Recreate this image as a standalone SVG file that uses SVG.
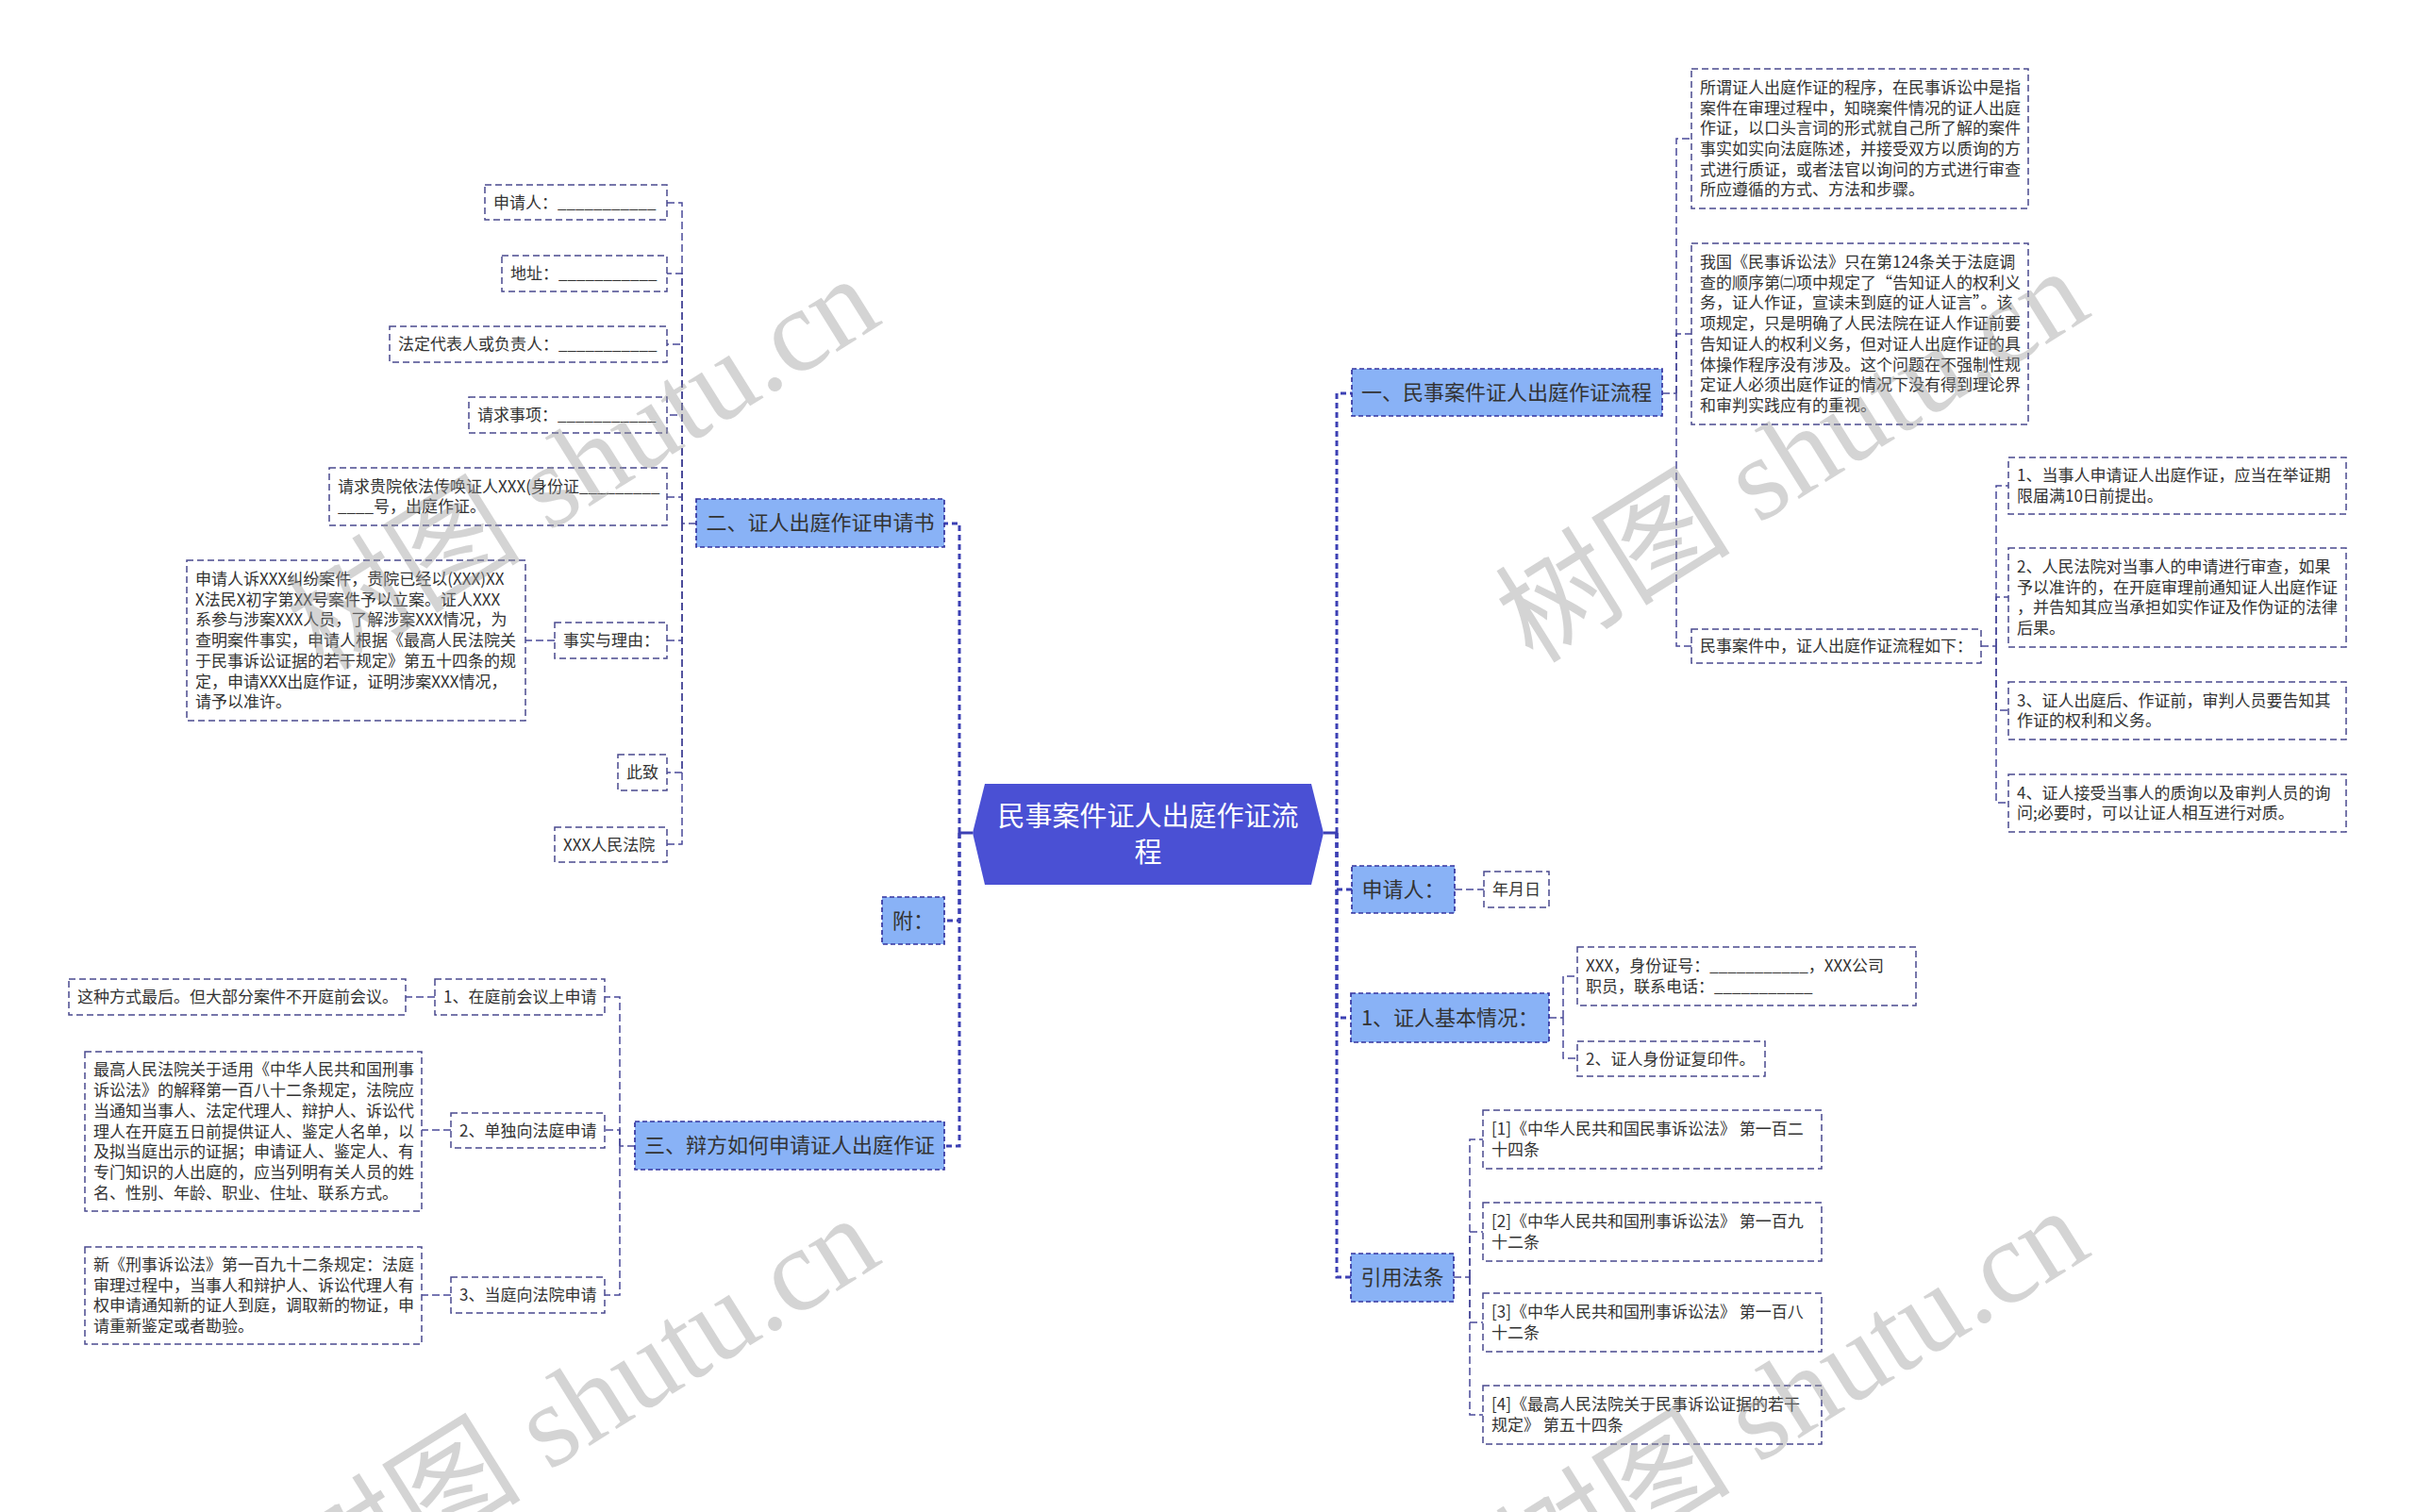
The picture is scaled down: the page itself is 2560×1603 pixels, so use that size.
<svg xmlns="http://www.w3.org/2000/svg" width="2560" height="1603" viewBox="0 0 2560 1603">
<style>
.t{font-family:"Noto Sans CJK SC","Noto Sans",sans-serif;fill:#333;}
.s{font-size:17px;}
.m{font-size:22px;}
.ctr{text-anchor:middle;}
.box{fill:#fff;stroke:#4a4a8e;stroke-width:1.5;stroke-dasharray:7 4;}
.l1{fill:#89b2f6;stroke:#3535a0;stroke-width:1.7;stroke-dasharray:5 3;}
.trunk{fill:none;stroke:#3c40b4;stroke-width:3;stroke-dasharray:6 4;}
.solid{fill:none;stroke:#3c40b4;stroke-width:3;}
.c{fill:none;stroke:#4a4a99;stroke-width:1.5;stroke-dasharray:8 4;}
.wm{font-family:"Liberation Serif","Noto Sans CJK SC",serif;font-size:125px;fill:#9a9a9a;opacity:0.42;}
</style>
<rect width="2560" height="1603" fill="#fff"/>

<g id="connectors">
  <path class="solid" d="M1403,883 H1417 M1031,883 H1017"/>
  <path class="trunk" d="M1417,883 V417 H1433"/>
  <path class="trunk" d="M1417,883 V943 H1433"/>
  <path class="trunk" d="M1417,883 V1079 H1432"/>
  <path class="trunk" d="M1417,883 V1354 H1432"/>
  <path class="trunk" d="M1017,883 V555 H1001"/>
  <path class="trunk" d="M1017,883 V976 H1001"/>
  <path class="trunk" d="M1017,883 V1215 H1001"/>
  <!-- 一 children -->
  <path class="c" d="M1762,417 H1777"/>
  <path class="c" d="M1777,417 V147 H1793"/>
  <path class="c" d="M1777,417 V354 H1793"/>
  <path class="c" d="M1777,417 V685 H1793"/>
  <path class="c" d="M2100,685 H2116"/>
  <path class="c" d="M2116,685 V515 H2129"/>
  <path class="c" d="M2116,685 V633 H2129"/>
  <path class="c" d="M2116,685 V753 H2129"/>
  <path class="c" d="M2116,685 V851 H2129"/>
  <!-- 申请人 -->
  <path class="c" d="M1542,943 H1573"/>
  <!-- 证人基本情况 -->
  <path class="c" d="M1642,1079 H1657"/>
  <path class="c" d="M1657,1079 V1035 H1672"/>
  <path class="c" d="M1657,1079 V1122 H1672"/>
  <!-- 引用法条 -->
  <path class="c" d="M1541,1354 H1558"/>
  <path class="c" d="M1558,1354 V1208 H1572"/>
  <path class="c" d="M1558,1354 V1306 H1572"/>
  <path class="c" d="M1558,1354 V1402 H1572"/>
  <path class="c" d="M1558,1354 V1500 H1572"/>
  <!-- 二 children -->
  <path class="c" d="M738,555 H723"/>
  <path class="c" d="M723,555 V215 H707"/>
  <path class="c" d="M723,555 V290 H707"/>
  <path class="c" d="M723,555 V365 H707"/>
  <path class="c" d="M723,555 V440 H707"/>
  <path class="c" d="M723,555 V527 H707"/>
  <path class="c" d="M723,555 V679 H707"/>
  <path class="c" d="M723,555 V819 H707"/>
  <path class="c" d="M723,555 V895 H707"/>
  <path class="c" d="M588,679 H557"/>
  <!-- 三 children -->
  <path class="c" d="M673,1215 H657"/>
  <path class="c" d="M657,1215 V1057 H641"/>
  <path class="c" d="M657,1215 V1198 H641"/>
  <path class="c" d="M657,1215 V1373 H641"/>
  <path class="c" d="M461,1057 H430"/>
  <path class="c" d="M478,1198 H447"/>
  <path class="c" d="M478,1373 H447"/>
</g>

<g id="root">
  <polygon points="1044,831 1390,831 1403,883 1390,938 1044,938 1031,883" fill="#4a50d4"/>
  <text class="t ctr" x="1217" y="876" style="font-size:29px;fill:#fff">民事案件证人出庭作证流</text>
  <text class="t ctr" x="1217" y="914" style="font-size:29px;fill:#fff">程</text>
</g>

<!-- Right side -->
<g id="n-yi">
  <rect class="l1" x="1433" y="391" width="329" height="50"/>
  <text class="t m ctr" x="1597" y="424">一、民事案件证人出庭作证流程</text>
</g>
<g id="n-yi-a">
  <rect class="box" x="1793" y="73" width="357" height="148"/>
  <text class="t s" x="1802" y="98.8"><tspan x="1802">所谓证人出庭作证的程序，在民事诉讼中是指</tspan><tspan x="1802" dy="21.7">案件在审理过程中，知晓案件情况的证人出庭</tspan><tspan x="1802" dy="21.7">作证，以口头言词的形式就自己所了解的案件</tspan><tspan x="1802" dy="21.7">事实如实向法庭陈述，并接受双方以质询的方</tspan><tspan x="1802" dy="21.7">式进行质证，或者法官以询问的方式进行审查</tspan><tspan x="1802" dy="21.7">所应遵循的方式、方法和步骤。</tspan></text>
</g>
<g id="n-yi-b">
  <rect class="box" x="1793" y="258" width="357" height="192"/>
  <text class="t s" x="1802" y="284"><tspan x="1802">我国《民事诉讼法》只在第124条关于法庭调</tspan><tspan x="1802" dy="21.7">查的顺序第㈡项中规定了“告知证人的权利义</tspan><tspan x="1802" dy="21.7">务，证人作证，宣读未到庭的证人证言”。该</tspan><tspan x="1802" dy="21.7">项规定，只是明确了人民法院在证人作证前要</tspan><tspan x="1802" dy="21.7">告知证人的权利义务，但对证人出庭作证的具</tspan><tspan x="1802" dy="21.7">体操作程序没有涉及。这个问题在不强制性规</tspan><tspan x="1802" dy="21.7">定证人必须出庭作证的情况下没有得到理论界</tspan><tspan x="1802" dy="21.7">和审判实践应有的重视。</tspan></text>
</g>
<g id="n-yi-c">
  <rect class="box" x="1793" y="667" width="307" height="36"/>
  <text class="t s" x="1802" y="691">民事案件中，证人出庭作证流程如下：</text>
</g>
<g id="n-c1">
  <rect class="box" x="2129" y="485" width="358" height="60"/>
  <text class="t s" x="2138" y="510"><tspan x="2138">1、当事人申请证人出庭作证，应当在举证期</tspan><tspan x="2138" dy="21.7">限届满10日前提出。</tspan></text>
</g>
<g id="n-c2">
  <rect class="box" x="2129" y="581" width="358" height="105"/>
  <text class="t s" x="2138" y="607"><tspan x="2138">2、人民法院对当事人的申请进行审查，如果</tspan><tspan x="2138" dy="21.7">予以准许的，在开庭审理前通知证人出庭作证</tspan><tspan x="2138" dy="21.7">，并告知其应当承担如实作证及作伪证的法律</tspan><tspan x="2138" dy="21.7">后果。</tspan></text>
</g>
<g id="n-c3">
  <rect class="box" x="2129" y="723" width="358" height="61"/>
  <text class="t s" x="2138" y="748.6"><tspan x="2138">3、证人出庭后、作证前，审判人员要告知其</tspan><tspan x="2138" dy="21.7">作证的权利和义务。</tspan></text>
</g>
<g id="n-c4">
  <rect class="box" x="2129" y="821" width="358" height="61"/>
  <text class="t s" x="2138" y="846.6"><tspan x="2138">4、证人接受当事人的质询以及审判人员的询</tspan><tspan x="2138" dy="21.7">问;必要时，可以让证人相互进行对质。</tspan></text>
</g>

<g id="n-sqr">
  <rect class="l1" x="1433" y="918" width="109" height="50"/>
  <text class="t m ctr" x="1487.5" y="951">申请人：</text>
</g>
<g id="n-nyr">
  <rect class="box" x="1573" y="924" width="69" height="38"/>
  <text class="t s" x="1582" y="949">年月日</text>
</g>

<g id="n-zrjb">
  <rect class="l1" x="1432" y="1053" width="210" height="52"/>
  <text class="t m ctr" x="1537" y="1087">1、证人基本情况：</text>
</g>
<g id="n-zrjb-1">
  <rect class="box" x="1672" y="1004" width="359" height="62"/>
  <text class="t s" x="1681" y="1030"><tspan x="1681">XXX，身份证号：___________，XXX公司</tspan><tspan x="1681" dy="21.7">职员，联系电话：___________</tspan></text>
</g>
<g id="n-zrjb-2">
  <rect class="box" x="1672" y="1104" width="199" height="37"/>
  <text class="t s" x="1681" y="1128.5">2、证人身份证复印件。</text>
</g>

<g id="n-yyft">
  <rect class="l1" x="1432" y="1329" width="109" height="51"/>
  <text class="t m ctr" x="1486.5" y="1362">引用法条</text>
</g>
<g id="n-ft1">
  <rect class="box" x="1572" y="1177" width="359" height="62"/>
  <text class="t s" x="1581" y="1203"><tspan x="1581">[1]《中华人民共和国民事诉讼法》 第一百二</tspan><tspan x="1581" dy="21.7">十四条</tspan></text>
</g>
<g id="n-ft2">
  <rect class="box" x="1572" y="1275" width="359" height="62"/>
  <text class="t s" x="1581" y="1301"><tspan x="1581">[2]《中华人民共和国刑事诉讼法》 第一百九</tspan><tspan x="1581" dy="21.7">十二条</tspan></text>
</g>
<g id="n-ft3">
  <rect class="box" x="1572" y="1371" width="359" height="62"/>
  <text class="t s" x="1581" y="1397"><tspan x="1581">[3]《中华人民共和国刑事诉讼法》 第一百八</tspan><tspan x="1581" dy="21.7">十二条</tspan></text>
</g>
<g id="n-ft4">
  <rect class="box" x="1572" y="1469" width="359" height="62"/>
  <text class="t s" x="1581" y="1495"><tspan x="1581">[4]《最高人民法院关于民事诉讼证据的若干</tspan><tspan x="1581" dy="21.7">规定》 第五十四条</tspan></text>
</g>

<!-- Left side -->
<g id="n-er">
  <rect class="l1" x="738" y="529" width="263" height="51"/>
  <text class="t m ctr" x="869.5" y="562">二、证人出庭作证申请书</text>
</g>
<g id="n-er-1">
  <rect class="box" x="514" y="196" width="193" height="37"/>
  <text class="t s" x="523" y="220.5">申请人：___________</text>
</g>
<g id="n-er-2">
  <rect class="box" x="532" y="271" width="175" height="38"/>
  <text class="t s" x="541" y="296">地址：___________</text>
</g>
<g id="n-er-3">
  <rect class="box" x="413" y="346" width="294" height="38"/>
  <text class="t s" x="422" y="371">法定代表人或负责人：___________</text>
</g>
<g id="n-er-4">
  <rect class="box" x="497" y="421" width="210" height="38"/>
  <text class="t s" x="506" y="446">请求事项：___________</text>
</g>
<g id="n-er-5">
  <rect class="box" x="349" y="496" width="358" height="61"/>
  <text class="t s" x="358" y="521.6"><tspan x="358">请求贵院依法传唤证人XXX(身份证_________</tspan><tspan x="358" dy="21.7">____号，出庭作证。</tspan></text>
</g>
<g id="n-er-6">
  <rect class="box" x="588" y="660" width="119" height="38"/>
  <text class="t s" x="597" y="685">事实与理由：</text>
</g>
<g id="n-er-6a">
  <rect class="box" x="198" y="594" width="359" height="170"/>
  <text class="t s" x="207" y="620"><tspan x="207">申请人诉XXX纠纷案件，贵院已经以(XXX)XX</tspan><tspan x="207" dy="21.7">X法民X初字第XX号案件予以立案。证人XXX</tspan><tspan x="207" dy="21.7">系参与涉案XXX人员，了解涉案XXX情况，为</tspan><tspan x="207" dy="21.7">查明案件事实，申请人根据《最高人民法院关</tspan><tspan x="207" dy="21.7">于民事诉讼证据的若干规定》第五十四条的规</tspan><tspan x="207" dy="21.7">定，申请XXX出庭作证，证明涉案XXX情况，</tspan><tspan x="207" dy="21.7">请予以准许。</tspan></text>
</g>
<g id="n-er-7">
  <rect class="box" x="655" y="800" width="52" height="38"/>
  <text class="t s" x="664" y="825">此致</text>
</g>
<g id="n-er-8">
  <rect class="box" x="588" y="877" width="119" height="37"/>
  <text class="t s" x="597" y="901.5">XXX人民法院</text>
</g>

<g id="n-fu">
  <rect class="l1" x="935" y="951" width="66" height="50"/>
  <text class="t m ctr" x="968" y="984">附：</text>
</g>

<g id="n-san">
  <rect class="l1" x="673" y="1189" width="328" height="51"/>
  <text class="t m ctr" x="837" y="1222">三、辩方如何申请证人出庭作证</text>
</g>
<g id="n-san-1">
  <rect class="box" x="461" y="1038" width="180" height="38"/>
  <text class="t s" x="470" y="1063">1、在庭前会议上申请</text>
</g>
<g id="n-san-1a">
  <rect class="box" x="73" y="1038" width="357" height="38"/>
  <text class="t s" x="82" y="1063">这种方式最后。但大部分案件不开庭前会议。</text>
</g>
<g id="n-san-2">
  <rect class="box" x="478" y="1180" width="163" height="37"/>
  <text class="t s" x="487" y="1204.5">2、单独向法庭申请</text>
</g>
<g id="n-san-2a">
  <rect class="box" x="90" y="1115" width="357" height="169"/>
  <text class="t s" x="99" y="1140.4"><tspan x="99">最高人民法院关于适用《中华人民共和国刑事</tspan><tspan x="99" dy="21.7">诉讼法》的解释第一百八十二条规定，法院应</tspan><tspan x="99" dy="21.7">当通知当事人、法定代理人、辩护人、诉讼代</tspan><tspan x="99" dy="21.7">理人在开庭五日前提供证人、鉴定人名单，以</tspan><tspan x="99" dy="21.7">及拟当庭出示的证据；申请证人、鉴定人、有</tspan><tspan x="99" dy="21.7">专门知识的人出庭的，应当列明有关人员的姓</tspan><tspan x="99" dy="21.7">名、性别、年龄、职业、住址、联系方式。</tspan></text>
</g>
<g id="n-san-3">
  <rect class="box" x="478" y="1354" width="163" height="38"/>
  <text class="t s" x="487" y="1379">3、当庭向法院申请</text>
</g>
<g id="n-san-3a">
  <rect class="box" x="90" y="1322" width="357" height="103"/>
  <text class="t s" x="99" y="1347"><tspan x="99">新《刑事诉讼法》第一百九十二条规定：法庭</tspan><tspan x="99" dy="21.7">审理过程中，当事人和辩护人、诉讼代理人有</tspan><tspan x="99" dy="21.7">权申请通知新的证人到庭，调取新的物证，申</tspan><tspan x="99" dy="21.7">请重新鉴定或者勘验。</tspan></text>
</g>

<g id="watermarks">
  <text class="wm" x="343" y="713" transform="rotate(-32 343 713)">树图 shutu.cn</text>
  <text class="wm" x="1625" y="705" transform="rotate(-32 1625 705)">树图 shutu.cn</text>
  <text class="wm" x="343" y="1709" transform="rotate(-32 343 1709)">树图 shutu.cn</text>
  <text class="wm" x="1625" y="1701" transform="rotate(-32 1625 1701)">树图 shutu.cn</text>
</g>
</svg>
